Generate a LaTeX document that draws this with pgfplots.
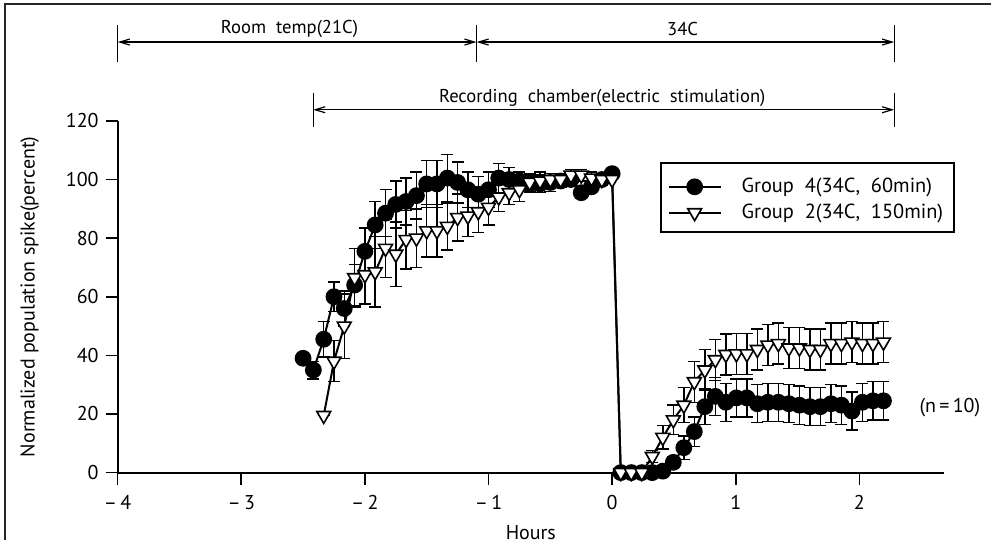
\documentclass[border=0pt]{standalone}
\usepackage{pgfplots}
\pgfplotsset{compat=1.18}
\usepackage{pgfplotstable}
\usepackage{fontspec}
\setmainfont{PT Sans}
\usetikzlibrary{arrows.meta}

\pgfplotstableread{
x y e
-2.500 39 0
-2.417 35 3
-2.333 45.5 6
-2.250 60 5
-2.167 56 6
-2.083 64 7
-2.000 75.5 8
-1.917 84.5 8
-1.833 88.5 8
-1.750 91.5 8
-1.667 92.5 8
-1.583 94.5 8
-1.500 98.5 8
-1.417 98.5 8
-1.333 100.5 8
-1.250 99 7
-1.167 96.5 6
-1.083 95 6
-1.000 96.5 6
-0.917 100.5 5
-0.833 100 4
-0.750 99.5 3
-0.667 98.5 3
-0.583 98.5 3
-0.500 99 3
-0.417 99.5 2
-0.333 100 2
-0.250 95.5 2
-0.167 97.5 2
-0.083 100 2
0.000 102 0
0.070 0 0
0.155 0 0
0.240 0 0
0.325 0 0
0.410 0.5 1
0.495 3.5 2
0.580 8.5 4
0.665 14 5
0.750 22.5 6
0.835 26 6.5
0.920 24 6.5
1.005 25.5 6.5
1.090 25.5 6.5
1.175 23.5 6.5
1.260 24 6.5
1.345 24 6.5
1.430 23.5 6.5
1.515 23 6.5
1.600 22.5 6.5
1.685 22.5 6.5
1.770 23.5 6.5
1.855 23 6.5
1.940 21 6.5
2.025 24 6.5
2.110 24.5 6.5
2.195 24.5 6.5
}\groupfour

\pgfplotstableread{
x y e
-2.333 19.5 0
-2.250 38 7
-2.167 50 11
-2.083 66.5 10
-2.000 67.5 10
-1.917 68.5 12
-1.833 76.5 10
-1.750 74.5 11
-1.667 79.5 10
-1.583 80 10
-1.500 82.5 9
-1.417 82.5 9
-1.333 84 8
-1.250 87 8
-1.167 87.5 7
-1.083 89 7
-1.000 90.5 6
-0.917 94 5
-0.833 95.5 4
-0.750 96.5 4
-0.667 99 3
-0.583 99.5 3
-0.500 100 2
-0.417 100 2
-0.333 101.5 2
-0.250 101.5 2
-0.167 100.5 2
-0.083 100 2
0.000 100 0
0.070 0 0
0.155 0 0
0.240 0 0
0.325 5.5 2
0.410 12 4
0.495 18 5
0.580 23 6
0.665 31 7
0.750 35 7
0.835 38.5 7
0.920 40.3 7
1.005 40.5 7
1.090 40.5 7
1.175 42 7
1.260 43.5 7
1.345 44 7
1.430 42.5 7
1.515 42.5 7
1.600 42 7
1.685 42 7
1.770 44 7
1.855 44 7
1.940 44.5 7
2.025 44 7
2.110 44 7
2.195 44.5 7
}\grouptwo

\begin{document}
\begin{tikzpicture}
\begin{axis}[
  scale only axis,
  width=413.5pt, height=176pt,
  xmin=-4, xmax=2.685,
  ymin=0, ymax=120,
  axis x line=bottom, axis y line=left,
  axis line style={-, line width=1pt},
  tick align=outside,
  major tick length=6pt,
  tick style={line width=0.8pt, black},
  xtick={-4,-3,-2,-1,0,1,2},
  xticklabels={{–\,4},{–\,3},{–\,2},{–\,1},0,1,2},
  ytick={0,20,40,60,80,100,120},
  /pgf/number format/assume math mode=true,
  ticklabel style={font=\fontsize{10}{12}\selectfont},
  xticklabel style={yshift=-2pt},
  xlabel={Hours},
  ylabel={Normalized population spike(percent)},
  xlabel style={at={(axis description cs:0.5,-0.172)}, anchor=center, font=\fontsize{10}{12}\selectfont},
  ylabel style={at={(axis description cs:-0.1064,0.5)}, anchor=center, font=\fontsize{10}{12}\selectfont},
  clip=false,
  legend style={at={(axis description cs:0.6651,0.8443)}, anchor=north west,
    draw=none, fill=none, inner sep=0pt, font=\fontsize{10.2}{12}\selectfont,
    nodes={inner sep=1pt}, row sep=2.2pt, column sep=9pt},
  legend cell align=left,
  legend image code/.code={\draw[mark repeat=2,mark phase=2,#1] plot coordinates {(0pt,0pt) (13pt,0pt) (26pt,0pt)};},
]
% bounding box and scan frame
\path (axis cs:-4.952,-22.84) rectangle (axis cs:3.065,161.25);
\draw[line width=1pt, black!85] (axis cs:-4.913,-22.84) -- (axis cs:-4.913,159.9) -- (axis cs:3.065,159.9);
% legend box
\draw[line width=0.8pt, black] (axis description cs:0.6578,0.8807) rectangle (axis description cs:1.0121,0.6847);

\addplot[black, line width=1pt, mark=*, mark size=3.7pt,
  mark options={solid, fill=black},
  error bars/.cd, y dir=both, y explicit,
  error bar style={line width=0.7pt, black},
  error mark options={rotate=90, mark size=3pt, line width=0.7pt, black}]
  table[x=x, y=y, y error=e] {\groupfour};
\addlegendentry{Group\ \ 4(34C,\ \ 60min)}

\addplot[black, line width=1pt, mark=triangle*, mark size=4pt,
  mark options={solid, fill=white, rotate=180, line width=0.8pt},
  error bars/.cd, y dir=both, y explicit,
  error bar style={line width=0.7pt, black},
  error mark options={rotate=90, mark size=3pt, line width=0.7pt, black}]
  table[x=x, y=y, y error=e] {\grouptwo};
\addlegendentry{Group\ \ 2(34C,\ \ 150min)}

% top annotations
\begin{scope}[line width=0.6pt, black]
\draw (axis cs:-4,152.7) -- (axis cs:-4,140.1);
\draw (axis cs:-1.097,152.7) -- (axis cs:-1.097,140.1);
\draw (axis cs:2.282,152.7) -- (axis cs:2.282,140.1);
\draw[{Straight Barb[length=5pt,width=3pt]}-{Straight Barb[length=5pt,width=3pt]}] (axis cs:-4,146.9) -- (axis cs:-1.097,146.9);
\draw[{Straight Barb[length=5pt,width=3pt]}-{Straight Barb[length=5pt,width=3pt]}] (axis cs:-1.097,146.9) -- (axis cs:2.282,146.9);
\draw (axis cs:-2.419,129.6) -- (axis cs:-2.419,118);
\draw (axis cs:2.282,129.6) -- (axis cs:2.282,118);
\draw[{Straight Barb[length=5pt,width=3pt]}-{Straight Barb[length=5pt,width=3pt]}] (axis cs:-2.419,123.8) -- (axis cs:2.282,123.8);
\end{scope}
\node[font=\fontsize{9.3}{11}\selectfont, anchor=center] at (axis cs:-2.61,151.5) {Room\ \ temp(21C)};
\node[font=\fontsize{9.3}{11}\selectfont, anchor=center] at (axis cs:0.57,151.5) {34C};
\node[font=\fontsize{9.3}{11}\selectfont, anchor=center] at (axis cs:-0.08,127.8) {Recording\ \ chamber(electric\ \ stimulation)};
\node[font=\fontsize{10}{12}\selectfont, anchor=west] at (axis cs:2.43,22.2) {(n$\,$=$\,$10)};
\end{axis}
\end{tikzpicture}
\end{document}
